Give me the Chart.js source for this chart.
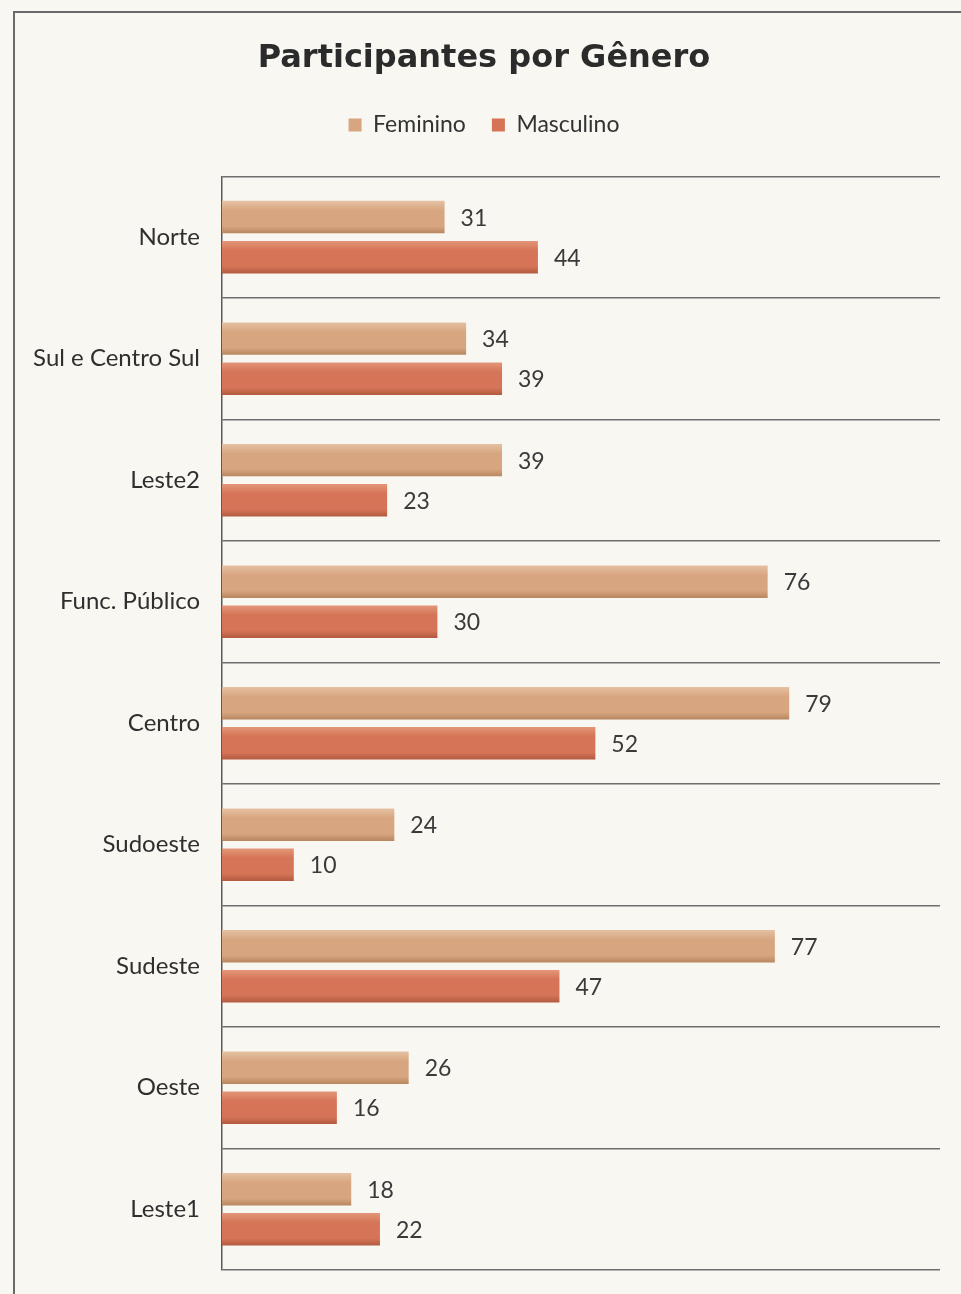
<!DOCTYPE html>
<html>
<head>
<meta charset="utf-8">
<script src="https://cdn.jsdelivr.net/npm/chart.js@4.4.1/dist/chart.umd.min.js"></script>
<style>
  html, body { margin: 0; padding: 0; background: #f8f7f2; }
  #wrap { position: relative; width: 961px; height: 1294px; }
  #frame { position: absolute; left: 13px; top: 11px; right: 0; bottom: 0;
           border-left: 2px solid #6a6a6a; border-top: 2px solid #6a6a6a; }
  canvas { position: absolute; left: 0; top: 0; }
</style>
</head>
<body>
<div id="wrap">
  <div id="frame"></div>
  <canvas id="genderChart" width="961" height="1294"></canvas>
</div>
<script>
/* DATA */
const regions = ["Norte", "Sul e Centro Sul", "Leste2", "Func. Público", "Centro",
                 "Sudoeste", "Sudeste", "Oeste", "Leste1"];
const feminino = [31, 34, 39, 76, 79, 24, 77, 26, 18];
const masculino = [44, 39, 23, 30, 52, 10, 47, 16, 22];
const xMax = 100;

const catPct = 0.66;
const barPct = 0.81;
const femColors = ["#e5c1a2", "#d7a680", "#b8865f"];
const mascColors = ["#e49678", "#d57456", "#b25a40"];

/*****************************************************************/

// Vertical gradient on each bar so it looks a bit rounded like the print
function barGradient(c, colors) {
    const chart = c.chart;
    const y = chart.scales ? chart.scales.y : null;
    if (!y || c.dataIndex === undefined || !chart.chartArea) return colors[1];
    const slot = (y.bottom - y.top) / regions.length * catPct / 2;
    const h = slot * barPct;
    const center = y.getPixelForValue(c.dataIndex) + (c.datasetIndex - 0.5) * slot;
    if (!isFinite(center)) return colors[1];
    const g = chart.ctx.createLinearGradient(0, center - h / 2, 0, center + h / 2);
    g.addColorStop(0, colors[0]);
    g.addColorStop(0.3, colors[1]);
    g.addColorStop(0.78, colors[1]);
    g.addColorStop(1, colors[2]);
    return g;
}

// Draw the value next to the end of each bar
const valueLabels = {
    id: "valueLabels",
    afterDatasetsDraw(chart) {
        const ctx = chart.ctx;
        ctx.save();
        ctx.font = "23px Lato, 'Open Sans', sans-serif";
        ctx.fillStyle = "#3a3a3a";
        ctx.textAlign = "left";
        ctx.textBaseline = "middle";
        chart.data.datasets.forEach((ds, i) => {
            chart.getDatasetMeta(i).data.forEach((bar, j) => {
                ctx.fillText(ds.data[j], bar.x + 16, bar.y + 1);
            });
        });
        ctx.restore();
    }
};

// Extra room under the legend, before the plot starts
const legendSpace = {
    id: "legendSpace",
    beforeInit(chart) {
        const fit = chart.legend.fit;
        chart.legend.fit = function () {
            fit.bind(chart.legend)();
            this.height += 30;
        };
    }
};

const context = document.getElementById("genderChart").getContext("2d");
new Chart(context, {
    type: "bar",
    data: {
        labels: regions,
        datasets: [{
            label: "Feminino",
            data: feminino,
            backgroundColor: (c) => barGradient(c, femColors),
            borderWidth: 0,
            categoryPercentage: catPct,
            barPercentage: barPct
        }, {
            label: "Masculino",
            data: masculino,
            backgroundColor: (c) => barGradient(c, mascColors),
            borderWidth: 0,
            categoryPercentage: catPct,
            barPercentage: barPct
        }]
    },
    options: {
        indexAxis: "y",
        responsive: false,
        animation: false,
        layout: { padding: { left: 28, right: 21, bottom: 24, top: 0 } },
        scales: {
            x: {
                display: false,
                min: 0,
                max: xMax
            },
            y: {
                afterFit(scale) {
                    scale.width = 194;
                    // no extra room for half labels above/below the plot
                    scale.paddingTop = 0;
                    scale.paddingBottom = 0;
                },
                ticks: {
                    color: "#2f2f2f",
                    font: { family: "Lato, 'Open Sans', sans-serif", size: 24 },
                    padding: 22
                },
                grid: {
                    color: "#6e6e6e",
                    lineWidth: 1.5,
                    drawTicks: false,
                    offset: true
                },
                border: { color: "#5a5a5a", width: 1.5 }
            }
        },
        plugins: {
            title: {
                display: true,
                text: "Participantes por Gênero",
                color: "#2b2b2b",
                font: { family: "'DejaVu Sans', sans-serif", size: 32, weight: "bold" },
                padding: { top: 39, bottom: 10 }
            },
            legend: {
                position: "top",
                labels: {
                    color: "#333",
                    font: { family: "Lato, 'Open Sans', sans-serif", size: 23 },
                    boxWidth: 13,
                    boxHeight: 13,
                    padding: 26,
                    generateLabels(chart) {
                        return chart.data.datasets.map((ds, i) => ({
                            text: ds.label,
                            fillStyle: i === 0 ? femColors[1] : mascColors[1],
                            strokeStyle: i === 0 ? femColors[2] : mascColors[2],
                            lineWidth: 0,
                            hidden: false,
                            datasetIndex: i,
                            fontColor: "#333"
                        }));
                    }
                }
            },
            tooltip: { enabled: false }
        }
    },
    plugins: [valueLabels, legendSpace]
});
</script>
</body>
</html>
